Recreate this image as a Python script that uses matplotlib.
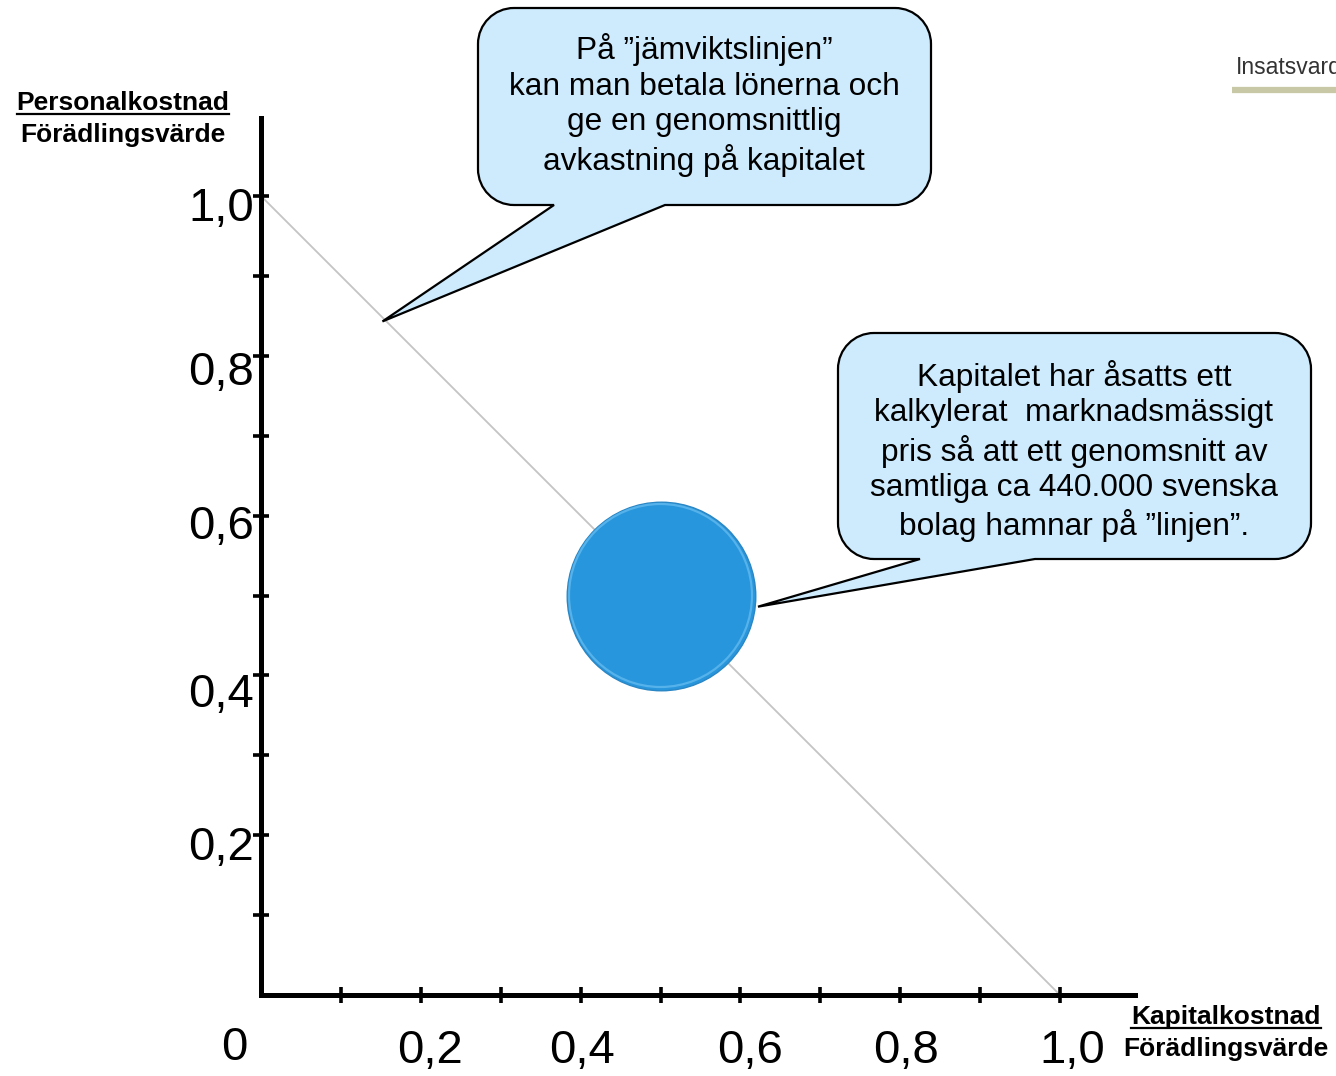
import matplotlib
matplotlib.use("Agg")
import matplotlib.pyplot as plt
import numpy as np
from matplotlib.path import Path
from matplotlib.patches import PathPatch
from matplotlib.transforms import Affine2D
from matplotlib.lines import Line2D

plt.rcParams["font.family"] = ["Liberation Sans", "DejaVu Sans"]

W, H = 1336, 1076

# data
line_x = [0.0, 1.0]
line_y = [1.0, 0.0]
bubble_x = [0.5]
bubble_y = [0.5]
bubble_radius = 0.118  # in axis units

x_tick_vals = [0.0, 0.2, 0.4, 0.6, 0.8, 1.0]
x_tick_text = ["0", "0,2", "0,4", "0,6", "0,8", "1,0"]
y_tick_vals = [1.0, 0.8, 0.6, 0.4, 0.2]
y_tick_text = ["1,0", "0,8", "0,6", "0,4", "0,2"]

callout1_text = ("På \u201djämviktslinjen\u201d\nkan man betala lönerna och\n"
                 "ge en genomsnittlig\navkastning på kapitalet")
callout1_tip = (0.152, 0.843)
callout2_text = ("Kapitalet har åsatts ett\nkalkylerat  marknadsmässigt\n"
                 "pris så att ett genomsnitt av\nsamtliga ca 440.000 svenska\n"
                 "bolag hamnar på \u201dlinjen\u201d.")
callout2_tip = (0.622, 0.486)

fig = plt.figure(figsize=(W / 100, H / 100), dpi=100)
# pixel coords (y down) -> figure
pix = Affine2D().scale(1 / W, -1 / H).translate(0, 1) + fig.transFigure

x0, x1, ybot, ytop = 261, 1135, 995, 118
unit = 799.0
ax = fig.add_axes([x0 / W, (H - ybot) / H, (x1 - x0) / W, (ybot - ytop) / H])
ax.set_xlim(0, (x1 - x0) / unit)
ax.set_ylim(0, (ybot - ytop) / unit)
for s in ["top", "right"]:
    ax.spines[s].set_visible(False)
for s in ["left", "bottom"]:
    ax.spines[s].set_linewidth(3.6)
ax.set_xticks(np.arange(0.1, 1.01, 0.1))
ax.set_yticks(np.arange(0.1, 1.01, 0.1))
ax.tick_params(direction="inout", length=11, width=2.6, labelbottom=False, labelleft=False)

ax.plot(line_x, line_y, color="#c4c4c4", lw=1.3, zorder=1)

# bubble
r_pt = bubble_radius * unit * 72 / 100
ax.scatter(bubble_x, bubble_y, s=(2 * r_pt) ** 2, color="#2896dc",
           edgecolor="#2a86c4", linewidth=1.0, zorder=3)
ax.scatter(bubble_x, bubble_y, s=(2 * r_pt - 4) ** 2, facecolor="none",
           edgecolor="#56b2ea", linewidth=1.6, zorder=3)

# tick labels (placed like the original, slightly off the ticks)
x_lab_pos = [-0.034, 0.2115, 0.402, 0.612, 0.807, 1.015]
x_lab_y = [-0.066, -0.070, -0.070, -0.070, -0.070, -0.070]
for v, t, px, py in zip(x_tick_vals, x_tick_text, x_lab_pos, x_lab_y):
    ax.text(px, py, t, ha="center", va="center", fontsize=34, clip_on=False)
y_lab_off = [-0.016, -0.021, -0.014, -0.024, -0.016]
for v, t, dy in zip(y_tick_vals, y_tick_text, y_lab_off):
    ax.text(-0.009, v + dy, t, ha="right", va="center", fontsize=34, clip_on=False)


def callout(bx0, by0, bx1, by1, base0, base1, tip, r=36):
    tx, ty = ax.transData.transform(tip)
    tx, ty = tx, H - ty
    k = 0.5523 * r
    verts = [
        (bx0 + r, by0),
        (bx1 - r, by0),
        (bx1 - r + k, by0), (bx1, by0 + r - k), (bx1, by0 + r),
        (bx1, by1 - r),
        (bx1, by1 - r + k), (bx1 - r + k, by1), (bx1 - r, by1),
        (base1, by1),
        (tx, ty),
        (base0, by1),
        (bx0 + r, by1),
        (bx0 + r - k, by1), (bx0, by1 - r + k), (bx0, by1 - r),
        (bx0, by0 + r),
        (bx0, by0 + r - k), (bx0 + r - k, by0), (bx0 + r, by0),
        (bx0 + r, by0),
    ]
    codes = [Path.MOVETO, Path.LINETO,
             Path.CURVE4, Path.CURVE4, Path.CURVE4,
             Path.LINETO,
             Path.CURVE4, Path.CURVE4, Path.CURVE4,
             Path.LINETO, Path.LINETO, Path.LINETO, Path.LINETO,
             Path.CURVE4, Path.CURVE4, Path.CURVE4,
             Path.LINETO,
             Path.CURVE4, Path.CURVE4, Path.CURVE4,
             Path.CLOSEPOLY]
    patch = PathPatch(Path(verts, codes), facecolor="#cdebfd", edgecolor="black",
                      linewidth=1.6, transform=pix, joinstyle="miter")
    fig.add_artist(patch)


callout(478, 8, 931, 205, 554, 665, callout1_tip)
callout(838, 333, 1311, 559, 920, 1035, callout2_tip)

fig.text(704, 105, callout1_text, transform=pix, ha="center", va="center",
         multialignment="center", fontsize=22.8, linespacing=1.24)
fig.text(1074, 451, callout2_text, transform=pix, ha="center", va="center",
         multialignment="center", fontsize=22.8, linespacing=1.24)

# axis titles
t1 = fig.text(123, 103, "Personalkostnad", transform=pix, ha="center", va="center",
              fontsize=19, fontweight="bold")
fig.text(123, 135, "Förädlingsvärde", transform=pix, ha="center", va="center",
         fontsize=19, fontweight="bold")
t2 = fig.text(1226, 1017, "Kapitalkostnad", transform=pix, ha="center", va="center",
              fontsize=19, fontweight="bold")
fig.text(1226, 1049, "Förädlingsvärde", transform=pix, ha="center", va="center",
         fontsize=19, fontweight="bold")

fig.canvas.draw()
rend = fig.canvas.get_renderer()
for t in (t1, t2):
    bb = t.get_window_extent(rend)
    yl = bb.y0 + 1
    fig.add_artist(Line2D([bb.x0, bb.x1], [yl, yl], color="black", lw=1.6,
                          transform=None))

# header fragment at top right
fig.text(1236, 67, "Insatsvard", transform=pix, ha="left", va="center",
         fontsize=16.5, color="#333333")
fig.add_artist(Line2D([1232, 1336], [90, 90], color="#c8c8a6", lw=4.5,
                      transform=pix, solid_capstyle="butt"))

fig.savefig("out.png", dpi=100)
